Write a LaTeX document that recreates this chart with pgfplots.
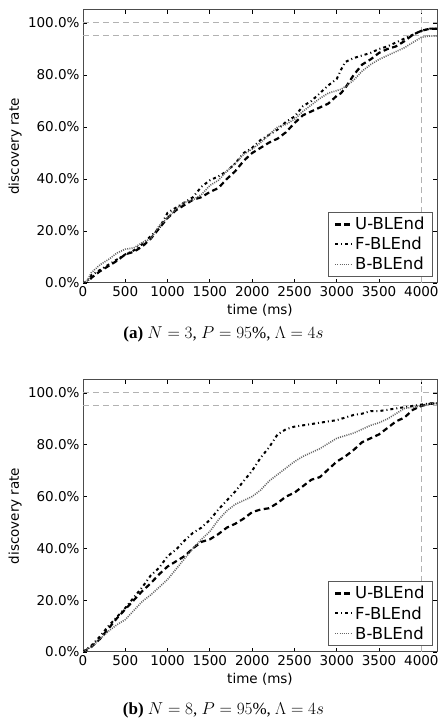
\documentclass[border=0pt]{standalone}
\usepackage{fontspec}
\setmainfont{DejaVu Sans}
\newfontfamily\capfont{Liberation Serif}
\usepackage{pgfplots}
\pgfplotsset{compat=1.18}
\usepackage{pgfplotstable}

\pgfplotstableread{
t     u     f     b
0     0     0     0
50    0     0.5   1
100   2     3     4
200   4.5   5     7
300   6.5   7     9
400   8.5   9     11.5
500   11    11    13
600   12    12.5  13.5
700   14    15    15.5
800   17    18    17
900   21    21    22
1000  25    27    25
1100  28    29    28.5
1200  30    31    31
1300  32    33    32
1400  33    37    34
1500  35    39.5  37.5
1600  36.5  41    39.5
1700  40    43    43
1800  43    46    46
1900  47    50    49.5
2000  50    52    51.5
2100  52    55    54
2200  54    57    57
2300  55.5  59    60
2400  58    62    61
2500  61.5  64    63
2600  64.5  68    66
2700  66    70    68.5
2800  67.5  73    71
2900  69    76    73
3000  72    78.5  74
3050  73    82    74.5
3100  75    85    75.5
3200  80    86.5  78
3300  84    87.5  81.5
3400  86    88.5  84
3500  88.5  90    86
3600  90    91    87.5
3700  91    92.5  89
3800  93    94    90.5
3900  95.5  95.5  92.5
4000  97    97    94.5
4100  97.8  97.8  95
4185  97.8  97.8  95
}\dataA

\pgfplotstableread{
t     u     f     b
0     0     0     0
100   2     2.5   2
200   5     6     5
300   9     10    8
400   13    13.5  10.5
500   16.5  17    12.5
600   20    21    16
700   23.5  25    19.5
800   26.5  29.5  22
900   30    32.5  25
1000  33    37    28
1100  35    39.5  32
1200  37    43    36
1300  40    46    40
1400  42.5  48    43.5
1500  43.5  51    46.5
1600  45.5  55    51
1700  48    58.5  54.5
1800  49.5  62    57
1900  51.5  66    58.5
2000  54    70    60
2100  55    75    62.5
2200  55.5  79    66
2300  57.5  84    68.5
2400  60    86    71
2500  61.5  87    73.5
2600  64    87.5  75.5
2700  66.5  88    77
2800  67.5  88.5  78.5
2900  70.5  89    80.5
3000  73.5  89.5  82.5
3100  75.5  90.5  83.5
3200  78    91.5  84.5
3300  81    92    86
3400  82.5  93    87.5
3500  84    93    88.5
3600  86.5  93.5  90
3700  89    94    92
3800  90.5  94.5  94
3900  93.5  95    94.5
4000  95    95.5  95
4100  95.8  96    95.8
4185  96    96    96
}\dataB

\pgfplotsset{
  legend image code/.code={\draw[#1] (0bp,0bp) -- (17bp,0bp);},
  blend/.style={
    scale only axis, width=354bp,
    xmin=0, xmax=4185, ymin=0, ymax=105,
    xtick={0,500,1000,1500,2000,2500,3000,3500,4000},
    xticklabels={0,500,1000,1500,2000,2500,3000,3500,4000},
    ytick={0,20,40,60,80,100},
    yticklabels={0.0\%,20.0\%,40.0\%,60.0\%,80.0\%,100.0\%},
    tick align=inside, major tick length=4bp,
    tick style={black, line width=0.8bp},
    axis line style={black!70, line width=1bp},
    ticklabel style={font=\fontsize{13.5bp}{16bp}\selectfont},
    label style={font=\fontsize{13.5bp}{16bp}\selectfont},
    xlabel={time (ms)}, ylabel={discovery rate},
    ylabel style={at={(rel axis cs:-0.192,0.5)}, anchor=center},
    legend style={at={(0.9887,0.022)}, anchor=south east, draw=black!65,
      line width=1bp, font=\fontsize{16.5bp}{20bp}\selectfont,
      cells={anchor=west}, row sep=2bp, inner xsep=6bp, inner ysep=3bp},
  },
  refline/.style={gray!60, line width=1bp, dash pattern=on 6bp off 4bp, forget plot},
  uline/.style={black, line width=2.2bp, dash pattern=on 5.5bp off 3.5bp},
  fline/.style={black, line width=2bp, dash pattern=on 3bp off 3bp on 1bp off 3bp},
  bline/.style={black!60, line width=1.6bp, dash pattern=on 1bp off 1.2bp},
}

\begin{document}
\begin{tikzpicture}[x=1bp,y=1bp]
\path[use as bounding box] (0,0) rectangle (440,719);

\begin{axis}[blend, height=273bp, at={(83bp,436bp)}, anchor=south west,
  xlabel style={at={(rel axis cs:0.5,-0.099)}, anchor=center}]
\addplot[refline] coordinates {(0,100) (4185,100)};
\addplot[refline] coordinates {(0,95) (4185,95)};
\addplot[refline] coordinates {(4000,0) (4000,105)};
\addplot[uline] table[x=t,y=u] {\dataA};
\addplot[fline] table[x=t,y=f] {\dataA};
\addplot[bline] table[x=t,y=b] {\dataA};
\legend{U-BLEnd,F-BLEnd,B-BLEnd}
\end{axis}
\node[font=\fontsize{17bp}{20bp}\selectfont] at (223.5,385)
  {\capfont\textbf{(a)} $N=3$, $P=95$\%, $\Lambda=4s$};

\begin{axis}[blend, height=272bp, at={(83bp,67bp)}, anchor=south west,
  xlabel style={at={(rel axis cs:0.5,-0.099)}, anchor=center}]
\addplot[refline] coordinates {(0,100) (4185,100)};
\addplot[refline] coordinates {(0,95) (4185,95)};
\addplot[refline] coordinates {(4000,0) (4000,105)};
\addplot[uline] table[x=t,y=u] {\dataB};
\addplot[fline] table[x=t,y=f] {\dataB};
\addplot[bline] table[x=t,y=b] {\dataB};
\legend{U-BLEnd,F-BLEnd,B-BLEnd}
\end{axis}
\node[font=\fontsize{17bp}{20bp}\selectfont] at (223.5,9)
  {\capfont\textbf{(b)} $N=8$, $P=95$\%, $\Lambda=4s$};
\end{tikzpicture}
\end{document}
